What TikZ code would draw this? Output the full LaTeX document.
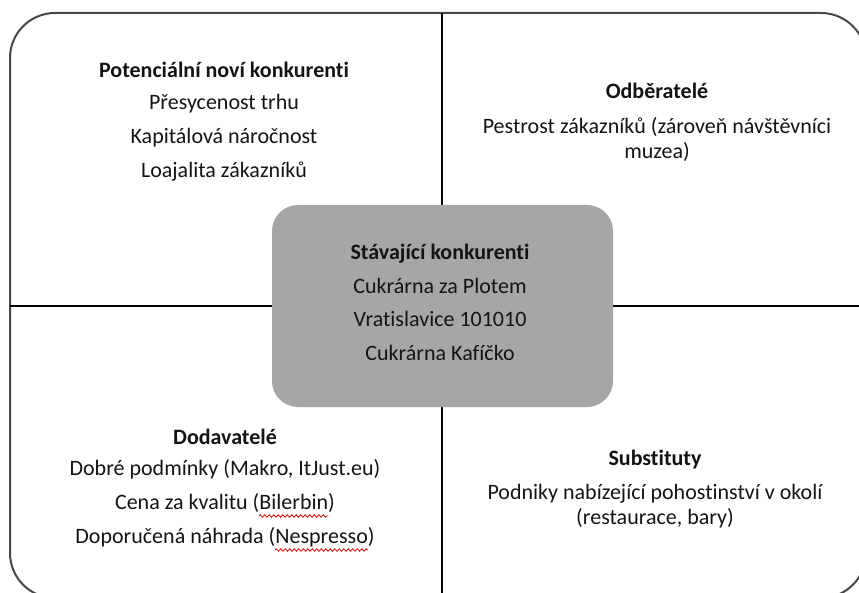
\documentclass[tikz,border=0pt]{standalone}
\usepackage{fontspec}
\setmainfont{Carlito}[Ligatures=NoCommon]
\usetikzlibrary{calc,decorations.pathmorphing}
\begin{document}
\begin{tikzpicture}[x=1pt,y=-1pt,
  lbl/.style={font=\fontsize{22}{26}\selectfont, inner sep=0pt, anchor=base, text=black!92},
  head/.style={lbl, font=\fontsize{22}{26}\selectfont\bfseries},
  frame/.style={draw=black!72, line width=2pt, rounded corners=45pt},
  divider/.style={draw=black, line width=1.4pt},
  core/.style={fill=black!35, draw=none, rounded corners=26pt, inner sep=0pt},
  squiggle/.style={draw=red!85!black, line width=0.8pt, decorate, decoration={snake, amplitude=1.2pt, segment length=4.5pt}}]
\useasboundingbox (0,0) rectangle (859,593);
\begin{scope}
\clip (0,0) rectangle (859,593);
\draw[frame] (10,13) rectangle (866,598);
\coordinate (vtop) at (442,13);
\coordinate (vbot) at (442,598);
\coordinate (hleft) at (10,306);
\coordinate (hright) at (866,306);
\draw[divider] (vtop) -- (vbot);
\draw[divider] (hleft) -- (hright);
\node[core, minimum width=341pt, minimum height=202pt] (core) at (442.5,306) {};
\end{scope}
% top left
\node[head] (pn) at (224,78) {Potenciální noví konkurenti};
\node[lbl] (pn1) at (224,110) {Přesycenost trhu};
\node[lbl] (pn2) at (224,144) {Kapitálová náročnost};
\node[lbl] (pn3) at (224,178) {Loajalita zákazníků};
% top right
\node[head] (od) at (657,99) {Odběratelé};
\node[lbl] (od1) at (657,134) {Pestrost zákazníků (zároveň návštěvníci};
\node[lbl] (od2) at (657,159) {muzea)};
% centre
\node[head] (sk) at (440,260) {Stávající konkurenti};
\node[lbl] (sk1) at (440,294) {Cukrárna za Plotem};
\node[lbl] (sk2) at (440,327) {Vratislavice 101010};
\node[lbl] (sk3) at (440,360) {Cukrárna Kafíčko};
% bottom left
\node[head] (dd) at (225,444) {Dodavatelé};
\node[lbl] (dd1) at (225,475) {Dobré podmínky (Makro, ItJust.eu)};
\node[lbl] (dd2) at (225,509) {Cena za kvalitu (Bilerbin)};
\node[lbl] (dd3) at (225,543) {Doporučená náhrada (Nespresso)};
% bottom right
\node[head] (su) at (655,465) {Substituty};
\node[lbl] (su1) at (655,499) {Podniky nabízející pohostinství v okolí};
\node[lbl] (su2) at (655,524) {(restaurace, bary)};
% spell-check marks
\node[lbl, anchor=base east] (bilp) at (dd2.base east) {\phantom{)}};
\node[lbl, anchor=base east] (bil) at (bilp.base west) {\phantom{Bilerbin}};
\node[lbl, anchor=base east] (nesp) at (dd3.base east) {\phantom{)}};
\node[lbl, anchor=base east] (nes) at (nesp.base west) {\phantom{Nespresso}};
\draw[squiggle] ($(bil.base west)+(0,7)$) -- ($(bil.base east)+(0,7)$);
\draw[squiggle] ($(nes.base west)+(0,7)$) -- ($(nes.base east)+(0,7)$);
\end{tikzpicture}
\end{document}
